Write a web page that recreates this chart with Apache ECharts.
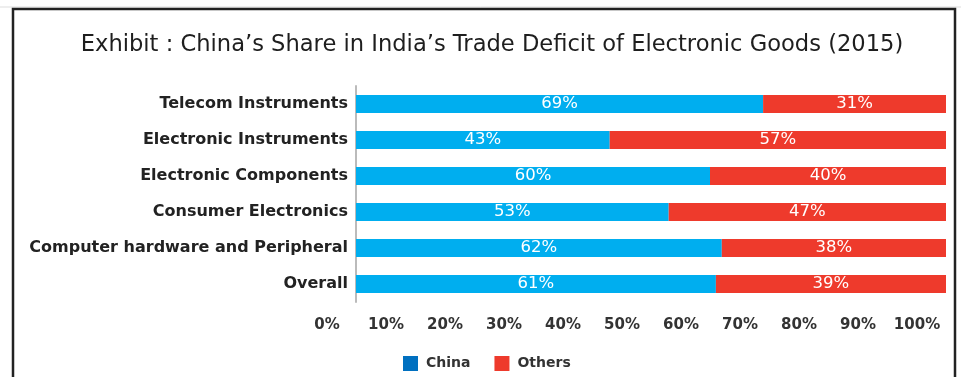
<!DOCTYPE html>
<html><head><meta charset="utf-8">
<script src="https://cdn.jsdelivr.net/npm/echarts@6/dist/echarts.min.js"></script>
<style>html,body{margin:0;padding:0;background:#fff}#c{width:961px;height:377px}</style>
</head><body><div id="c"></div>
<script>
const categories = ['Telecom Instruments','Electronic Instruments','Electronic Components','Consumer Electronics','Computer hardware and Peripheral','Overall'];
const china = [69, 43, 60, 53, 62, 61];
const others = [31, 57, 40, 47, 38, 39];
const tickLabels = ['0%','10%','20%','30%','40%','50%','60%','70%','80%','90%','100%'];
const FONT = 'DejaVu Sans';
const chart = echarts.init(document.getElementById('c'), null, {renderer:'canvas'});
chart.setOption({
  animation:false,
  title:{text:'Exhibit : China\u2019s Share in India\u2019s Trade Deficit of Electronic Goods (2015)', left:487, textAlign:'center', top:29,
    textStyle:{fontFamily:FONT, fontSize:22.6, fontWeight:'normal', color:'#1e1e1e'}},
  graphic:[
    {type:'line', shape:{x1:0,y1:7,x2:961,y2:7}, style:{stroke:'#ddd', lineWidth:1}, silent:true},
    {type:'rect', shape:{x:13,y:9,width:942,height:420}, style:{fill:'none', stroke:'#222', lineWidth:2.5}, silent:true}
  ],
  legend:{bottom:6, left:403, itemWidth:15, itemHeight:15, itemGap:24, icon:'rect', padding:0,
    textStyle:{fontFamily:FONT, fontSize:14, fontWeight:'bold', color:'#333', padding:[0,0,0,3]}},
  grid:{left:356, width:590, top:86, height:216, containLabel:false},
  xAxis:{type:'value', min:0, max:100, interval:10, splitLine:{show:false}, axisLine:{show:false}, axisTick:{show:false},
    axisLabel:{margin:16, padding:[0,58,0,0], fontFamily:FONT, fontSize:15, fontWeight:'bold', color:'#333',
      formatter:v=>tickLabels[Math.round(v/10)]}},
  yAxis:{type:'category', data:categories, inverse:true, axisTick:{show:false},
    axisLine:{show:true, lineStyle:{color:'#bbb', width:2}},
    axisLabel:{margin:8, fontFamily:FONT, fontSize:16, fontWeight:'bold', color:'#222'}},
  series:[
    {name:'China', type:'bar', stack:'t', barWidth:18, itemStyle:{color:'#0070C0'},
     data:china.map(v=>({value:v, itemStyle:{color:'#00AEEF'}})),
     label:{show:true, position:'inside', formatter:'{c}%', color:'#fff', fontFamily:FONT, fontSize:16.5}},
    {name:'Others', type:'bar', stack:'t', barWidth:18, itemStyle:{color:'#EE3A2C'},
     data:others,
     label:{show:true, position:'inside', formatter:'{c}%', color:'#fff', fontFamily:FONT, fontSize:16.5}}
  ]
});
</script></body></html>
